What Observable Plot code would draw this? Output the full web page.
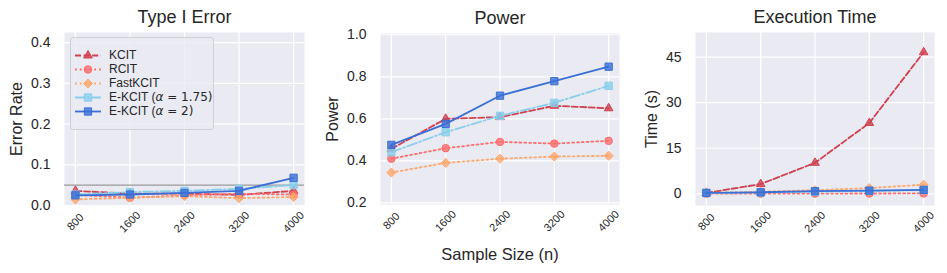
<!DOCTYPE html>
<html><head><meta charset="utf-8">
<script src="https://cdn.jsdelivr.net/npm/d3@7"></script>
<script src="https://cdn.jsdelivr.net/npm/@observablehq/plot@0.6"></script>
<style>
body{margin:0;background:#fff;}
#chart{position:relative;width:947px;height:273px;font-family:"Liberation Sans",Arial,sans-serif;}
#chart > svg{position:absolute;top:0;}
#legend{position:absolute;left:70px;top:37px;width:142px;height:91px;background:rgba(234,234,242,0.8);border:1px solid #cfcfd6;border-radius:3px;}
#legend svg{position:absolute;left:0;top:0;}
</style></head><body><div id="chart"></div>
<script>
// ---- data ----
const sampleSizes = [800, 1600, 2400, 3200, 4000];
const methods = ["KCIT", "RCIT", "FastKCIT", "E-KCIT (α = 1.75)", "E-KCIT (α = 2)"];

// rows follow the order of `methods`
const typeIError = [
  [0.036, 0.029, 0.029, 0.026, 0.036],
  [0.026, 0.019, 0.025, 0.029, 0.027],
  [0.015, 0.019, 0.023, 0.018, 0.021],
  [0.027, 0.033, 0.036, 0.041, 0.050],
  [0.025, 0.027, 0.031, 0.036, 0.068]
];
const power = [
  [0.457, 0.600, 0.608, 0.662, 0.650],
  [0.410, 0.460, 0.490, 0.482, 0.495],
  [0.344, 0.390, 0.410, 0.420, 0.424],
  [0.441, 0.536, 0.614, 0.676, 0.757],
  [0.476, 0.576, 0.710, 0.779, 0.848]
];
const execTime = [
  [0.3, 3.2, 10.2, 23.3, 46.6],
  [0.05, 0.06, 0.08, 0.10, 0.12],
  [0.3, 0.7, 1.2, 1.9, 3.0],
  [0.25, 0.45, 0.70, 0.95, 1.2],
  [0.3, 0.5, 0.85, 1.05, 1.3]
];
const significanceLevel = [0.05];

const typeITicks = [0, 0.1, 0.2, 0.3, 0.4];
const powerTicks = [0.2, 0.4, 0.6, 0.8, 1.0];
const timeTicks = [0, 15, 30, 45];

// ---- styles ----
const colors = ["#d0404f", "#ff6b6b", "#ffa66b", "#87ceeb", "#3a6fd6"];
const symbols = ["triangle", "circle", "diamond2", "square", "square"];
const markerR = [3.2, 3.75, 4.05, 4.1, 4.1];
const dashes = ["6,2.6", "1.8,3", "1.8,3", "10,2.6,1.8,2.6", null];
const FONT = '"Liberation Sans", Arial, sans-serif';
const INK = "#262626";

function seriesMarks(vals) {
  return methods.flatMap((m, i) => {
    const rows = sampleSizes.map((n, j) => ({n, v: vals[i][j]}));
    return [
      Plot.line(rows, {x: "n", y: "v", stroke: colors[i], strokeWidth: 1.8, strokeDasharray: dashes[i] || undefined}),
      Plot.dot(rows, {x: "n", y: "v", symbol: symbols[i], r: markerR[i], fill: colors[i], fillOpacity: 0.8, stroke: colors[i], strokeWidth: 1})
    ];
  });
}

function panel({vals, yDomain, yTicks, fmt, title, ylabel, left, width, mL, mR, mT, mB, labelDx, extra = [], xlabel = null}) {
  const svg = Plot.plot({
    width, height: 273,
    marginLeft: mL, marginRight: mR, marginTop: mT, marginBottom: mB,
    style: {fontFamily: FONT, background: "transparent", overflow: "visible", color: INK},
    x: {domain: [640, 4160]},
    y: {domain: yDomain},
    marks: [
      Plot.frame({fill: "#EAEAF2", stroke: "none"}),
      Plot.gridX(sampleSizes, {stroke: "white", strokeOpacity: 1, strokeWidth: 1.2}),
      Plot.gridY(yTicks, {stroke: "white", strokeOpacity: 1, strokeWidth: 1.2}),
      Plot.axisX(sampleSizes, {tickSize: 0, tickPadding: 16.5, tickRotate: -45, textAnchor: "middle", lineAnchor: "middle", fontSize: 11, label: null, tickFormat: d3.format("d"), fill: INK}),
      Plot.axisY(yTicks, {tickSize: 0, tickPadding: 14, fontSize: 14, label: null, tickFormat: fmt, fill: INK}),
      Plot.text([ylabel], {frameAnchor: "left", rotate: -90, dx: labelDx, lineAnchor: "middle", textAnchor: "middle", fontSize: 16, fill: INK}),
      Plot.text([title], {frameAnchor: "top", lineAnchor: "bottom", dy: -9.5, fontSize: 18, fill: INK}),
      ...(xlabel ? [Plot.text([xlabel], {frameAnchor: "bottom", lineAnchor: "middle", dy: 50, fontSize: 16.5, fill: INK})] : []),
      ...extra,
      ...seriesMarks(vals)
    ]
  });
  svg.style.left = left + "px";
  return svg;
}

const chart = document.getElementById("chart");

chart.appendChild(panel({
  vals: typeIError, yDomain: [0, 0.425], yTicks: typeITicks, fmt: d3.format(".1f"),
  title: "Type I Error", ylabel: "Error Rate",
  left: 0, width: 315, mL: 64, mR: 11, mT: 32, mB: 68, labelDx: -47.5,
  extra: [Plot.ruleY(significanceLevel, {stroke: "#9a9a9a", strokeWidth: 1.2})]
}));
chart.appendChild(panel({
  vals: power, yDomain: [0.192, 1.006], yTicks: powerTicks, fmt: d3.format(".1f"),
  title: "Power", ylabel: "Power", xlabel: "Sample Size (n)",
  left: 315, width: 315, mL: 65, mR: 11, mT: 33, mB: 69, labelDx: -47.5
}));
chart.appendChild(panel({
  vals: execTime, yDomain: [-3.85, 53.1], yTicks: timeTicks, fmt: d3.format("d"),
  title: "Execution Time", ylabel: "Time (s)",
  left: 630, width: 317, mL: 65, mR: 13, mT: 32, mB: 68, labelDx: -44
}));

// ---- legend ----
const legendSvg = Plot.plot({
  width: 142, height: 91,
  margin: 0,
  style: {fontFamily: FONT, background: "transparent", overflow: "visible", color: INK},
  x: {domain: [0, 1], range: [3.5, 29.5], axis: null},
  y: {type: "point", domain: methods, range: [9.8, 79.8], axis: null},
  marks: [
    ...methods.flatMap((method, i) => [
      Plot.link([method], {x1: () => 0, x2: () => 1, y1: d => d, y2: d => d, stroke: colors[i], strokeWidth: 1.8, strokeDasharray: dashes[i] || undefined}),
      Plot.dot([method], {x: () => 0.5, y: d => d, symbol: symbols[i], r: markerR[i], fill: colors[i], fillOpacity: 0.8, stroke: colors[i], strokeWidth: 1})
    ]),
    Plot.text(methods, {y: d => d, frameAnchor: "left", dx: 37.5, textAnchor: "start", lineAnchor: "middle", fontSize: 12, fill: INK})
  ]
});
const legendBox = document.createElement("div");
legendBox.id = "legend";
legendBox.appendChild(legendSvg);
chart.appendChild(legendBox);

// italic alpha like mathtext
legendSvg.querySelectorAll("text").forEach(t => {
  const s = t.textContent;
  if (s.includes("α")) {
    const [a, b] = s.split("α");
    t.textContent = "";
    const ns = "http://www.w3.org/2000/svg";
    const t1 = document.createElementNS(ns, "tspan"); t1.textContent = a;
    const t2 = document.createElementNS(ns, "tspan"); t2.textContent = "α"; t2.setAttribute("font-style", "italic"); t2.setAttribute("font-family", "DejaVu Sans");
    const t3 = document.createElementNS(ns, "tspan"); t3.textContent = b; t3.setAttribute("font-family", "DejaVu Sans");
    t.append(t1, t2, t3);
  }
});
</script></body></html>
